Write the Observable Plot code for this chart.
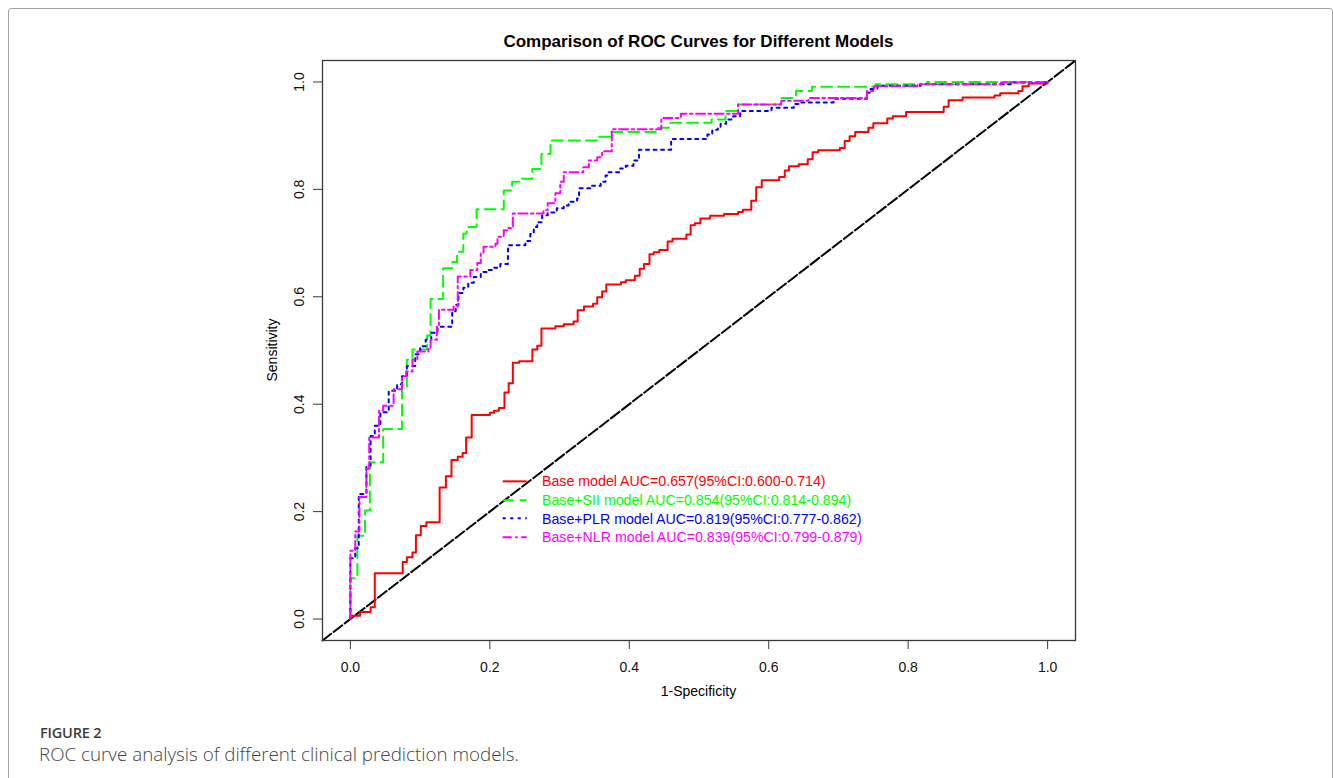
<!DOCTYPE html>
<html>
<head>
<meta charset="utf-8">
<script src="https://cdn.jsdelivr.net/npm/d3@7"></script>
<script src="https://cdn.jsdelivr.net/npm/@observablehq/plot@0.6"></script>
<style>
  html, body { margin: 0; padding: 0; background: #fff; }
  body { width: 1333px; height: 778px; position: relative; overflow: hidden; font-family: "Liberation Sans", Arial, Helvetica, sans-serif; }
  #box { position: absolute; left: 8px; top: 8px; width: 1325px; height: 820px; border: 1.5px solid #a3a3a3; border-radius: 3px; box-sizing: border-box; }
  #chart { position: absolute; left: 0; top: 0; }
  #title { position: absolute; left: 322px; width: 753px; top: 32px; line-height: 20px; text-align: center; font-weight: bold; font-size: 17px; color: #000; }
  #xlabel { position: absolute; left: 322px; width: 753px; top: 683px; line-height: 16px; text-align: center; font-size: 14px; color: #000; }
  #ylabel { position: absolute; left: 272px; top: 350px; width: 0; height: 0; }
  #ylabel span { position: absolute; transform: translate(-50%, -50%) rotate(-90deg); white-space: nowrap; font-size: 14px; line-height: 16px; color: #000; }
  #legend { position: absolute; left: 500px; top: 472px; font-size: 14.2px; }
  .lrow { display: flex; align-items: center; height: 18.7px; white-space: nowrap; }
  .lrow svg { width: 42px; height: 18.7px; flex: none; }
  #fig { position: absolute; left: 40px; top: 723px; font-family: "Open Sans", "Noto Sans", sans-serif; font-size: 14.5px; font-weight: 600; color: #3d3d3d; letter-spacing: -0.2px; }
  #cap { position: absolute; left: 39px; top: 741px; font-family: "Open Sans", "Noto Sans", sans-serif; font-size: 18.8px; font-weight: 300; color: #444; }
</style>
</head>
<body>
<div id="box"></div>
<div id="chart"></div>
<div id="title">Comparison of ROC Curves for Different Models</div>
<div id="xlabel">1-Specificity</div>
<div id="ylabel"><span>Sensitivity</span></div>
<div id="legend"></div>
<div id="fig">FIGURE 2</div>
<div id="cap">ROC curve analysis of different clinical prediction models.</div>
<script>
// ---- data ----
const axisDomain = [-0.04, 1.04];
const tickValues = [0, 0.2, 0.4, 0.6, 0.8, 1.0];

const modelNames = ["Base model", "Base+SII model", "Base+PLR model", "Base+NLR model"];
const modelAUC = ["0.657", "0.854", "0.819", "0.839"];
const modelCI = ["0.600-0.714", "0.814-0.894", "0.777-0.862", "0.799-0.879"];
const modelColors = ["#FF0000", "#00FF00", "#0000FF", "#FF00FF"];
const modelDash = [null, "11,6", "3,4.5", "9,3.5,2.5,3.5"];

// ROC steps: 1-specificity (x of each vertical rise) and sensitivity reached
const baseFPR = [0,0,0.014,0.029,0.035,0.075,0.081,0.089,0.094,0.101,0.109,0.128,0.137,0.145,0.154,0.161,0.166,0.174,0.200,0.206,0.213,0.221,0.227,0.233,0.242,0.261,0.268,0.274,0.294,0.306,0.320,0.326,0.335,0.348,0.354,0.361,0.367,0.388,0.395,0.408,0.415,0.421,0.429,0.435,0.443,0.455,0.462,0.482,0.488,0.494,0.502,0.516,0.536,0.556,0.563,0.575,0.582,0.590,0.615,0.623,0.629,0.643,0.656,0.663,0.671,0.702,0.709,0.716,0.724,0.743,0.750,0.770,0.778,0.797,0.851,0.858,0.878,0.924,0.932,0.958,0.964,0.973,1];
const baseTPR = [0,0.006,0.013,0.022,0.085,0.106,0.115,0.124,0.156,0.173,0.180,0.245,0.266,0.296,0.302,0.309,0.338,0.380,0.384,0.388,0.393,0.422,0.439,0.477,0.480,0.502,0.509,0.541,0.545,0.549,0.554,0.575,0.582,0.587,0.599,0.610,0.623,0.627,0.631,0.639,0.652,0.661,0.679,0.683,0.687,0.703,0.708,0.716,0.733,0.737,0.746,0.751,0.754,0.758,0.762,0.779,0.804,0.817,0.823,0.835,0.843,0.847,0.856,0.869,0.873,0.877,0.890,0.899,0.907,0.915,0.923,0.932,0.936,0.944,0.954,0.966,0.971,0.975,0.979,0.983,0.992,0.997,1];

const siiFPR = [0,0,0.010,0.021,0.028,0.047,0.074,0.081,0.089,0.110,0.115,0.133,0.146,0.153,0.162,0.167,0.181,0.220,0.232,0.244,0.261,0.274,0.287,0.354,0.373,0.438,0.459,0.518,0.538,0.556,0.617,0.639,0.662,0.753,0.827,1];
const siiTPR = [0,0.076,0.155,0.202,0.292,0.354,0.433,0.483,0.502,0.528,0.596,0.653,0.665,0.684,0.718,0.730,0.763,0.798,0.814,0.820,0.838,0.866,0.891,0.898,0.907,0.915,0.924,0.930,0.946,0.958,0.970,0.983,0.991,0.996,1,1];

const plrFPR = [0,0,0.007,0.012,0.023,0.029,0.035,0.043,0.055,0.067,0.074,0.081,0.093,0.100,0.108,0.116,0.125,0.146,0.151,0.155,0.162,0.169,0.177,0.187,0.197,0.204,0.215,0.226,0.251,0.258,0.263,0.268,0.275,0.283,0.296,0.306,0.313,0.325,0.328,0.344,0.359,0.366,0.369,0.387,0.395,0.406,0.414,0.460,0.512,0.519,0.527,0.531,0.539,0.549,0.559,0.604,0.636,0.646,0.693,0.741,0.746,0.756,0.818,0.947,1];
const plrTPR = [0,0.113,0.132,0.233,0.286,0.341,0.360,0.385,0.425,0.437,0.452,0.471,0.493,0.508,0.520,0.533,0.544,0.573,0.585,0.607,0.617,0.626,0.637,0.646,0.650,0.654,0.661,0.696,0.704,0.717,0.730,0.739,0.752,0.757,0.765,0.770,0.777,0.783,0.802,0.807,0.814,0.826,0.832,0.839,0.844,0.854,0.874,0.894,0.902,0.911,0.915,0.922,0.930,0.936,0.946,0.952,0.959,0.962,0.969,0.980,0.987,0.993,0.996,0.999,1];

const nlrFPR = [0,0,0.007,0.013,0.023,0.027,0.041,0.047,0.062,0.074,0.080,0.089,0.096,0.112,0.115,0.124,0.127,0.148,0.154,0.172,0.182,0.187,0.191,0.208,0.211,0.220,0.225,0.233,0.277,0.283,0.294,0.301,0.306,0.334,0.342,0.354,0.361,0.375,0.446,0.474,0.556,0.618,0.657,0.741,0.751,0.813,0.933,1];
const nlrTPR = [0,0.127,0.163,0.227,0.280,0.338,0.388,0.397,0.428,0.452,0.461,0.483,0.498,0.505,0.520,0.545,0.576,0.582,0.638,0.650,0.663,0.682,0.693,0.699,0.712,0.724,0.728,0.755,0.761,0.774,0.793,0.814,0.832,0.841,0.854,0.860,0.871,0.912,0.933,0.941,0.958,0.965,0.970,0.983,0.992,0.996,0.999,1];

// ---- build tables ----
const curves = [[baseFPR, baseTPR], [siiFPR, siiTPR], [plrFPR, plrTPR], [nlrFPR, nlrTPR]];
const series = curves.map(([fx, ty], k) => fx.map((x, i) => ({model: modelNames[k], x, y: ty[i]})));
const diagonal = axisDomain.map(v => ({x: v, y: v}));

const fmt = d3.format(".1f");
const chart = Plot.plot({
  width: 1333,
  height: 720,
  marginLeft: 322,
  marginRight: 258,
  marginTop: 60,
  marginBottom: 80,
  x: {domain: axisDomain},
  y: {domain: axisDomain},
  style: {fontFamily: '"Liberation Sans", Arial, Helvetica, sans-serif', fontSize: "14px", color: "#111", background: "transparent", overflow: "visible"},
  marks: [
    Plot.line(diagonal, {x: "x", y: "y", stroke: "#000", strokeWidth: 2, strokeDasharray: "11,3"}),
    ...series.map((rows, k) => Plot.line(rows, {
      x: "x", y: "y", curve: "step-after",
      stroke: modelColors[k], strokeWidth: 2,
      strokeDasharray: modelDash[k] || undefined
    })),
    Plot.frame({stroke: "#3a3a3a", strokeWidth: 1.3}),
    Plot.axisX({ticks: tickValues, tickFormat: fmt, tickSize: 9, tickPadding: 13, label: null, stroke: "#3a3a3a", fontSize: 14}),
    Plot.axisY({ticks: tickValues, tickFormat: fmt, tickSize: 9, tickPadding: 10, tickRotate: -90, label: null, stroke: "#3a3a3a", fontSize: 14})
  ]
});
document.getElementById("chart").appendChild(chart);

// ---- legend ----
const legend = d3.select("#legend");
modelNames.forEach((name, k) => {
  const row = legend.append("div").attr("class", "lrow");
  const svg = row.append("svg");
  svg.append("line").attr("x1", 2.7).attr("x2", 26.7).attr("y1", 9.35).attr("y2", 9.35)
    .attr("stroke", modelColors[k]).attr("stroke-width", 2)
    .attr("stroke-dasharray", modelDash[k]);
  row.append("span").style("color", modelColors[k])
    .text(`${name} AUC=${modelAUC[k]}(95%CI:${modelCI[k]})`);
});
</script>
</body>
</html>
